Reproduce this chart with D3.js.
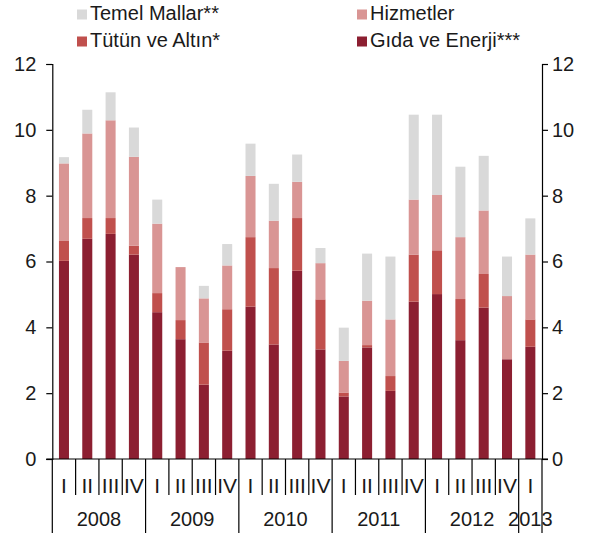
<!DOCTYPE html>
<html>
<head>
<meta charset="utf-8">
<script src="https://cdn.jsdelivr.net/npm/d3@7"></script>
<style>
  body { margin: 0; background: #fff; }
  text { font-family: "Liberation Sans", Arial, sans-serif; fill: #1a1a1a; }
  .axis path, .axis line { stroke: #000; stroke-width: 1.2; }
</style>
</head>
<body>
<svg id="chart" width="594" height="537"></svg>
<script>
// quarters 2008 I .. 2013 I
const quarters = ['I','II','III','IV','I','II','III','IV','I','II','III','IV','I','II','III','IV','I','II','III','IV','I']
const years = ['2008','2009','2010','2011','2012','2013']

// contributions (percentage points), stacked bottom -> top
const gidaEnerji = [6.02, 6.69, 6.84, 6.21, 4.46, 3.64, 2.26, 3.29, 4.63, 3.48, 5.72, 3.33, 1.90, 3.39, 2.07, 4.78, 5.01, 3.61, 4.60, 3.03, 3.41]
const tutunAltin = [0.62, 0.63, 0.48, 0.27, 0.58, 0.58, 1.28, 1.26, 2.11, 2.32, 1.60, 1.52, 0.12, 0.07, 0.45, 1.43, 1.33, 1.25, 1.02, 0.00, 0.83]
const hizmetler  = [2.34, 2.57, 2.97, 2.70, 2.11, 1.61, 1.34, 1.33, 1.86, 1.44, 1.10, 1.10, 0.96, 1.35, 1.72, 1.67, 1.68, 1.88, 1.93, 1.92, 1.97]
const temelMallar = [0.19, 0.72, 0.85, 0.89, 0.73, 0.00, 0.38, 0.65, 0.98, 1.12, 0.83, 0.46, 1.01, 1.43, 1.91, 2.58, 2.44, 2.14, 1.66, 1.20, 1.10]

const yTicks = [0, 2, 4, 6, 8, 10, 12]

const series = [
  {key: 'gida', name: 'Gıda ve Enerji***', values: gidaEnerji, color: '#8c1f31'},
  {key: 'tutun', name: 'Tütün ve Altın*', values: tutunAltin, color: '#c0504d'},
  {key: 'hizmet', name: 'Hizmetler', values: hizmetler, color: '#d99594'},
  {key: 'temel', name: 'Temel Mallar**', values: temelMallar, color: '#d9d9d9'}
]

let svg = d3.select('#chart')

let plotLeft = 52.3, plotRight = 542, plotTop = 64, plotBottom = 459

let rows = quarters.map((q, i) => {
  let r = {i: i}
  series.forEach(s => r[s.key] = s.values[i])
  return r
})

let x = d3.scaleBand()
.domain(d3.range(quarters.length))
.range([plotLeft, plotRight])
.paddingInner(0.57)
.paddingOuter(0.285)

let y = d3.scaleLinear()
.domain([0, 12])
.range([plotBottom, plotTop])

let stack = d3.stack().keys(series.map(s => s.key))
let stacked = stack(rows)

// bars
svg.append('g')
.selectAll('g')
.data(stacked)
.enter()
.append('g')
.attr('fill', (d, i) => series[i].color)
.selectAll('rect')
.data(d => d)
.enter()
.append('rect')
.attr('x', d => x(d.data.i))
.attr('width', x.bandwidth())
.attr('y', d => y(d[1]))
.attr('height', d => y(d[0]) - y(d[1]))

// y axes
svg.append('g')
.attr('class', 'axis')
.attr('transform', 'translate(' + plotLeft + ',0)')
.call(d3.axisLeft(y).tickValues(yTicks).tickSize(6).tickPadding(10))

svg.append('g')
.attr('class', 'axis')
.attr('transform', 'translate(' + plotRight + ',0)')
.call(d3.axisRight(y).tickValues(yTicks).tickSize(6).tickPadding(4))

svg.selectAll('.axis text').style('font-size', '20px')

// baseline
svg.append('line')
.attr('x1', plotLeft - 6).attr('x2', plotRight + 6)
.attr('y1', plotBottom).attr('y2', plotBottom)
.attr('stroke', '#000').attr('stroke-width', 1.2)

// category axis: quarter separators and year separators
let step = x.step()
let catAxis = svg.append('g')

d3.range(quarters.length + 1).forEach(i => {
  let bx = plotLeft + i * step
  let yearEdge = (i % 4 === 0) || i === quarters.length
  catAxis.append('line')
  .attr('x1', bx).attr('x2', bx)
  .attr('y1', plotBottom).attr('y2', yearEdge ? 533 : 495)
  .attr('stroke', '#000').attr('stroke-width', 1.2)
})

catAxis.selectAll('text.q')
.data(quarters)
.enter()
.append('text')
.attr('class', 'q')
.attr('x', (d, i) => x(i) + x.bandwidth() / 2)
.attr('y', 493)
.attr('text-anchor', 'middle')
.style('font-size', '21px')
.text(d => d)

catAxis.selectAll('text.yr')
.data(years)
.enter()
.append('text')
.attr('class', 'yr')
.attr('x', (d, i) => {
  let first = i * 4
  let last = Math.min(first + 3, quarters.length - 1)
  return (x(first) + x(last) + x.bandwidth()) / 2
})
.attr('y', 526)
.attr('text-anchor', 'middle')
.style('font-size', '20px')
.text(d => d)

// legend
let legendItems = [
  {s: series[3], lx: 77, ly: 19.5},
  {s: series[2], lx: 357, ly: 19.5},
  {s: series[1], lx: 77, ly: 46.5},
  {s: series[0], lx: 357, ly: 46.5}
]

let legend = svg.append('g')
legendItems.forEach(d => {
  legend.append('rect')
  .attr('x', d.lx).attr('y', d.ly - 10)
  .attr('width', 10).attr('height', 10)
  .attr('fill', d.s.color)
  legend.append('text')
  .attr('x', d.lx + 13).attr('y', d.ly)
  .style('font-size', '20px')
  .text(d.s.name)
})
</script>
</body>
</html>
